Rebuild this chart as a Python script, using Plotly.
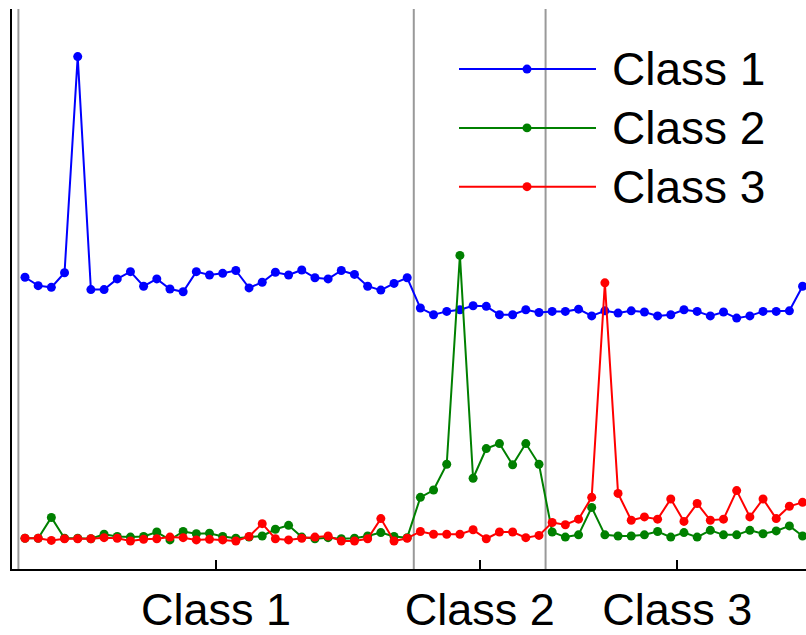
import plotly.graph_objects as go

x_index = list(range(1, 61))

class1_values = [52.1, 50.6, 50.3, 52.9, 91.5, 49.9, 49.9, 51.8, 53.1, 50.5,
                 51.8, 50.0, 49.5, 53.1, 52.5, 52.8, 53.3, 50.2, 51.2, 53.0,
                 52.5, 53.4, 52.0, 51.8, 53.3, 52.6, 50.5, 49.8, 51.0, 52.0,
                 46.6, 45.4, 46.0, 46.3, 47.0, 46.9, 45.4, 45.4, 46.3, 45.8,
                 46.0, 46.0, 46.4, 45.2, 46.1, 45.7, 46.1, 45.9, 45.2, 45.4,
                 46.3, 46.0, 45.2, 45.9, 44.8, 45.2, 46.0, 46.0, 46.1, 50.5]

class2_values = [5.5, 5.5, 9.2, 5.5, 5.5, 5.4, 6.2, 5.8, 5.7, 5.8,
                 6.6, 5.2, 6.7, 6.3, 6.4, 5.8, 5.5, 5.7, 5.9, 7.1,
                 7.8, 5.7, 5.4, 5.6, 5.4, 5.5, 5.9, 6.5, 5.8, 5.6,
                 12.8, 14.1, 18.7, 56.0, 16.2, 21.5, 22.4, 18.6, 22.4, 18.7,
                 6.6, 5.7, 6.1, 11.0, 6.1, 5.9, 5.9, 6.1, 6.7, 5.7,
                 6.5, 5.7, 6.9, 6.1, 6.1, 6.9, 6.3, 6.8, 7.7, 5.9]

class3_values = [5.5, 5.5, 5.1, 5.4, 5.4, 5.4, 5.6, 5.5, 5.0, 5.3,
                 5.4, 5.7, 5.6, 5.2, 5.3, 5.2, 5.0, 5.8, 8.1, 5.4,
                 5.2, 5.5, 5.7, 5.9, 5.0, 5.0, 5.4, 9.0, 5.0, 5.5,
                 6.7, 6.2, 6.2, 6.2, 7.0, 5.4, 6.6, 6.6, 5.6, 6.0,
                 8.3, 7.9, 8.9, 12.8, 51.1, 13.5, 8.7, 9.3, 8.9, 12.5,
                 8.5, 11.7, 8.7, 8.9, 14.0, 9.3, 12.5, 9.0, 11.2, 11.9]

series_names = ["Class 1", "Class 2", "Class 3"]
series_colors = ["#0000ff", "#008000", "#ff0000"]
boundaries = [0.5, 30.5, 40.5, 60.5]
tick_positions = [15.5, 35.5, 50.5]
tick_labels = ["Class 1", "Class 2", "Class 3"]

FONT = "Liberation Sans, Arial, Helvetica, sans-serif"

fig = go.Figure()
for name, vals, col in zip(series_names, [class1_values, class2_values, class3_values], series_colors):
    fig.add_trace(go.Scatter(
        x=x_index, y=vals, mode="lines+markers", name=name,
        line=dict(color=col, width=2),
        marker=dict(color=col, size=9),
        cliponaxis=False, showlegend=False,
    ))

shapes = []
for b in boundaries:
    shapes.append(dict(type="line", xref="x", yref="paper", x0=b, x1=b, y0=0, y1=1,
                       line=dict(color="#999999", width=2), layer="below"))

# custom legend (no box), placed in pixel-derived paper coordinates
L, T, W, H = 12, 9, 794, 562
def px_to_paper(px, py):
    return (px - L) / W, (T + H - py) / H

annotations = []
legend_rows = [69.3, 128.3, 187.3]
for name, col, ry in zip(series_names, series_colors, legend_rows):
    x0, y0 = px_to_paper(459, ry)
    x1, _ = px_to_paper(596, ry)
    shapes.append(dict(type="line", xref="paper", yref="paper", x0=x0, x1=x1, y0=y0, y1=y0,
                       line=dict(color=col, width=2), layer="above"))
    cx0, cy0 = px_to_paper(527 - 4.5, ry - 4.5)
    cx1, cy1 = px_to_paper(527 + 4.5, ry + 4.5)
    shapes.append(dict(type="circle", xref="paper", yref="paper", x0=cx0, x1=cx1, y0=cy1, y1=cy0,
                       fillcolor=col, line=dict(color=col, width=0), layer="above"))
    tx, ty = px_to_paper(610, ry)
    annotations.append(dict(xref="paper", yref="paper", x=tx, y=ty, text=name, showarrow=False,
                            xanchor="left", yanchor="middle",
                            font=dict(family=FONT, size=46, color="black")))

fig.update_layout(
    width=806, height=635,
    margin=dict(l=L, r=0, t=T, b=635 - T - H),
    paper_bgcolor="white", plot_bgcolor="white",
    shapes=shapes, annotations=annotations,
    showlegend=False,
    xaxis=dict(range=[0.014, 60.26], tickmode="array", tickvals=tick_positions, ticktext=tick_labels,
               ticks="inside", ticklen=9, tickwidth=2, tickcolor="black",
               showline=True, linecolor="black", linewidth=2, showgrid=False, zeroline=False,
               tickfont=dict(family=FONT, size=45, color="black")),
    yaxis=dict(range=[0, 100], showticklabels=False, ticks="", showline=True, linecolor="black",
               linewidth=2, showgrid=False, zeroline=False),
)

fig.write_html("out.html")
